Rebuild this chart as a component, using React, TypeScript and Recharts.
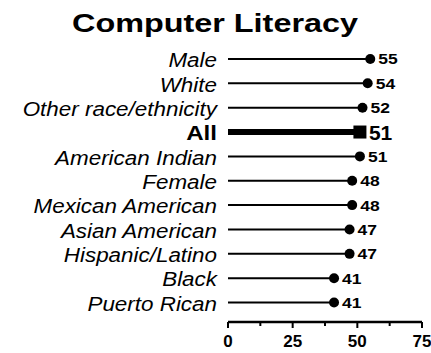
import React from 'react';
import { ComposedChart, Bar, XAxis, YAxis } from 'recharts';

const title = 'Computer Literacy';
const categories = [
  'Male',
  'White',
  'Other race/ethnicity',
  'All',
  'American Indian',
  'Female',
  'Mexican American',
  'Asian American',
  'Hispanic/Latino',
  'Black',
  'Puerto Rican',
];
const values = [55, 54, 52, 51, 51, 48, 48, 47, 47, 41, 41];
const highlightCategory = 'All';
const xTicks = [0, 12.5, 25, 37.5, 50, 62.5, 75];
const xTickLabels = ['0', '', '25', '', '50', '', '75'];

const data = categories.map((c, i) => ({ name: c, value: values[i] }));

const FONT = '"Liberation Sans", Arial, Helvetica, sans-serif';

const RowShape = (props: any) => {
  const { x, y, width, height, payload } = props;
  const cy = y + height / 2;
  const xe = x + width;
  const hi = payload.name === highlightCategory;
  if (hi) {
    return (
      <g>
        <line x1={x} y1={cy} x2={xe} y2={cy} stroke="#000" strokeWidth={6} />
        <rect x={xe - 6.5} y={cy - 6.5} width={13} height={13} fill="#000" />
        <text x={xe + 9} y={cy + 7.5} fontFamily={FONT} fontWeight="bold" fontSize={21} fill="#000">
          {payload.value}
        </text>
      </g>
    );
  }
  return (
    <g>
      <line x1={x} y1={cy} x2={xe} y2={cy} stroke="#000" strokeWidth={2} />
      <circle cx={xe} cy={cy} r={5} fill="#000" />
      <g transform={`translate(${xe + 8},${cy + 5.5})`}>
        <text x={0} y={0} transform="scale(1.25,1)" fontFamily={FONT} fontWeight="bold" fontSize={14} fill="#000">
          {payload.value}
        </text>
      </g>
    </g>
  );
};

const YTick = (props: any) => {
  const { x, y, payload } = props;
  const hi = payload.value === highlightCategory;
  return (
    <g transform={`translate(${x},${y + (hi ? 8 : 8)})`}>
      <text
        x={0}
        y={0}
        textAnchor="end"
        transform="scale(1.15,1)"
        fontFamily={FONT}
        fontStyle={hi ? 'normal' : 'italic'}
        fontWeight={hi ? 'bold' : 'normal'}
        fontSize={hi ? 21 : 19.5}
        fill="#000"
      >
        {payload.value}
      </text>
    </g>
  );
};

const XTick = (props: any) => {
  const { x, y, payload, index } = props;
  const label = xTickLabels[index] ?? '';
  const major = label !== '';
  return (
    <g>
      <line x1={x} y1={y} x2={x} y2={y + (major ? 6 : 4)} stroke="#000" strokeWidth={2} />
      {major && (
        <text x={x} y={y + 25} textAnchor="middle" fontFamily={FONT} fontWeight="bold" fontSize={17} fill="#000">
          {label}
        </text>
      )}
    </g>
  );
};

export default function App() {
  return (
    <div style={{ position: 'absolute', left: 0, top: 0, width: 431, height: 353, background: '#fff' }}>
      <svg width={431} height={40} style={{ position: 'absolute', left: 0, top: 0 }}>
        <text
          x={215}
          y={32}
          textAnchor="middle"
          fontFamily={FONT}
          fontWeight="bold"
          fontSize={26.5}
          textLength={286}
          lengthAdjust="spacingAndGlyphs"
          fill="#000"
        >
          {title}
        </text>
      </svg>
      <div style={{ position: 'absolute', left: 0, top: 0 }}>
        <ComposedChart
          width={431}
          height={353}
          data={data}
          layout="vertical"
          margin={{ top: 47, right: 9, bottom: 0, left: 0 }}
        >
          <XAxis
            type="number"
            domain={[0, 75]}
            ticks={xTicks}
            interval={0}
            height={31}
            tickSize={0}
            tickMargin={0}
            tickLine={false}
            axisLine={{ stroke: '#000', strokeWidth: 2.3 }}
            tick={<XTick />}
          />
          <YAxis
            type="category"
            dataKey="name"
            width={228}
            padding={{ top: 0, bottom: 7 }}
            axisLine={false}
            tickLine={false}
            tickSize={0}
            tickMargin={11}
            interval={0}
            tick={<YTick />}
          />
          <Bar dataKey="value" isAnimationActive={false} shape={<RowShape />} />
        </ComposedChart>
      </div>
    </div>
  );
}
